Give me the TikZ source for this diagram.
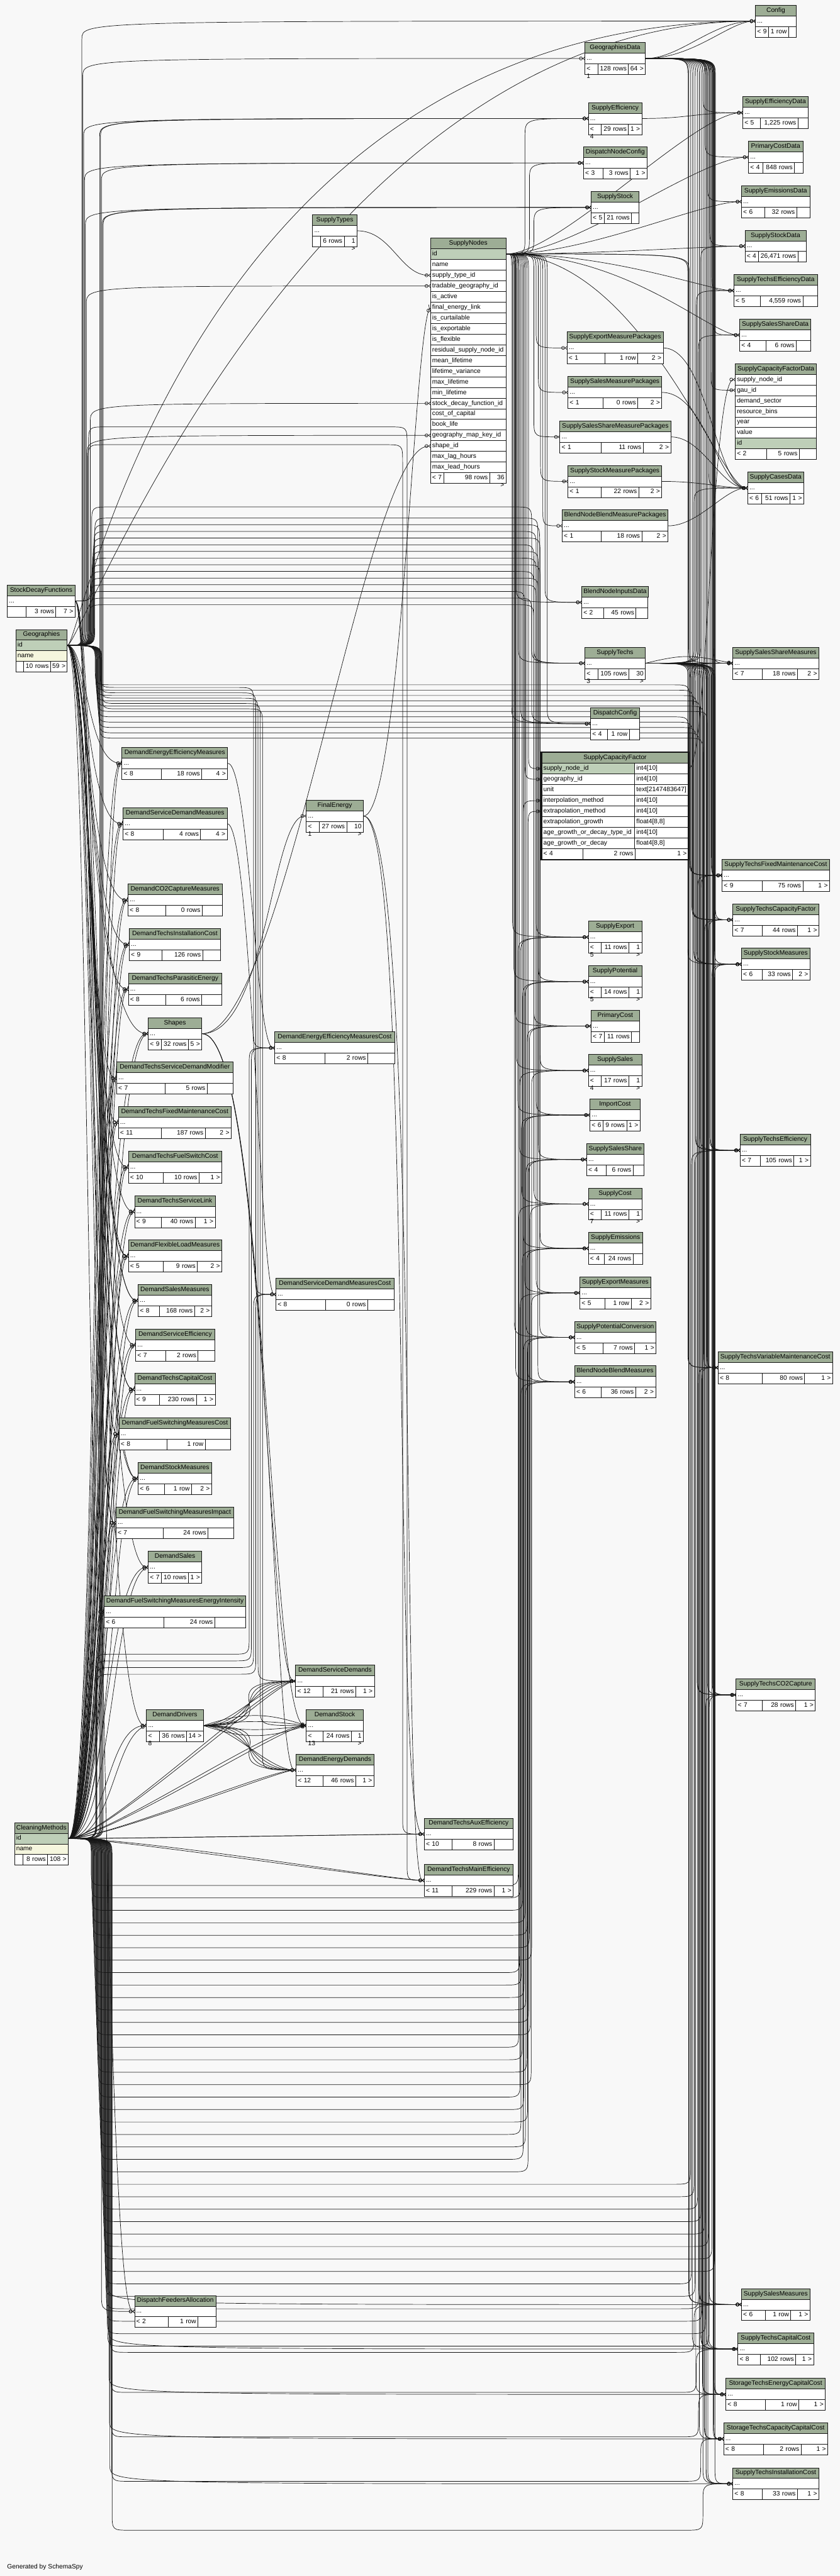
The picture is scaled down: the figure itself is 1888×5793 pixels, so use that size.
\documentclass[tikz,border=0pt]{standalone}
\usepackage{fontspec}
\setmainfont{Liberation Sans}
\usetikzlibrary{arrows.meta,calc}
\definecolor{bgc}{HTML}{F8F8F8}
\definecolor{hdrc}{HTML}{9DAD95}
\definecolor{pkc}{HTML}{BECFB8}
\definecolor{idxc}{HTML}{F5F6DE}
\definecolor{lnc}{HTML}{161616}
\pgfdeclarelayer{back}
\pgfdeclarelayer{edges}
\pgfsetlayers{back,edges,main}
\newcommand\tabfont{\fontsize{14.5}{17}\selectfont}
\tikzset{
  cellb/.style={draw=lnc,line width=1pt,minimum height=24pt,inner xsep=4pt,inner ysep=0pt,
    text height=10.4pt,text depth=3pt,anchor=north west,font=\tabfont,fill=white},
  hcell/.style={cellb,fill=hdrc,align=center},
  rcell/.style={cellb,align=left},
  fk/.style={draw=lnc,line width=1pt,shorten >=-4pt,
    -{Circle[open,length=8pt,width=8pt,line width=1pt] Straight Barb[reversed,length=7pt,width=12pt,line width=1pt]}}
}
\newcommand\zhd[5]{\pgfmathsetmacro\zW{#4-#2}\node[hcell,minimum width=\zW pt] (#1h) at (#2,#3) {#5};}
\newcommand\zrw[6]{\pgfmathsetmacro\zW{#4-#2-8}\node[rcell,text width=\zW pt,#6] (#1) at (#2,#3) {#5};}
\newcommand\zft[9]{%
  \pgfmathsetmacro\zWa{#4-#2-8}\pgfmathsetmacro\zWb{#5-#4-8}\pgfmathsetmacro\zWc{#6-#5-8}%
  \node[rcell,text width=\zWa pt,align=left] (#1fa) at (#2,#3) {#7};%
  \node[rcell,text width=\zWb pt,align=right] (#1fb) at (#4,#3) {#8};%
  \node[rcell,text width=\zWc pt,align=right] (#1fc) at (#5,#3) {#9};}
\def\zsplit#1/#2/#3\zend{\def\zFa{#1}\def\zFb{#2}\def\zFc{#3}}
\newcommand\ztb[8]{%
  \zhd{#1}{#2}{#3}{#6}{#7}%
  \pgfmathsetmacro\zYa{#3+24}\pgfmathsetmacro\zYb{#3+48}%
  \zrw{#1}{#2}{\zYa}{#6}{...}{}%
  \zsplit#8\zend
  \zft{#1}{#2}{\zYb}{#4}{#5}{#6}{\zFa}{\zFb}{\zFc}}
\newcommand\eC[4]{\draw[fk] (#1) .. controls (#2,0 |- #1) and (#3,0 |- #4) .. (#4);}
\newcommand\eV[4]{\draw[fk] (#1) .. controls (#2,0 |- #1) and (#2,0 |- #1) .. ($(#2,0 |- #1)+(0,#4)$) -- ($(#2,0 |- #3)-(0,#4)$) .. controls (#2,0 |- #3) and (#2,0 |- #3) .. (#3);}
\newcommand\eZ[7]{\draw[fk] (#1) .. controls (#2,0 |- #1) and (#2,0 |- #1) .. ($(#2,0 |- #1)+(0,#6)$) -- (#2,{#3-(#6)}) .. controls (#2,#3) and (#2,#3) .. ({#2+40},#3) -- ({#4-40},#3) .. controls (#4,#3) and (#4,#3) .. (#4,{#3+(#7)}) -- ($(#4,0 |- #5)-(0,#7)$) .. controls (#4,0 |- #5) and (#4,0 |- #5) .. (#5);}

\begin{document}
\begin{tikzpicture}[x=1pt,y=-1pt]
\useasboundingbox (0,0) rectangle (1888,5793);
\begin{pgfonlayer}{back}
\fill[bgc] (0,0) rectangle (1888,5793);
\end{pgfonlayer}

% ---------------- tables ----------------
\ztb{config}{1697.5}{11}{1727}{1772}{1789}{Config}{< 9/1 row/}
\ztb{geodata}{1314}{95}{1343}{1412}{1450}{GeographiesData}{< 1/128 rows/64 >}
\ztb{supeff}{1322}{230}{1351}{1412}{1442}{SupplyEfficiency}{< 4/29 rows/1 >}
\ztb{dnc}{1311}{330}{1355}{1416}{1454}{DispatchNodeConfig}{< 3/3 rows/1 >}
\ztb{supstock}{1328}{430}{1358}{1419}{1436}{SupplyStock}{< 5/21 rows/}
\ztb{supeffdata}{1669}{217}{1708}{1793}{1816}{SupplyEfficiencyData}{< 5/1,225 rows/}
\ztb{pcdata}{1682}{317}{1714}{1785}{1804}{PrimaryCostData}{< 4/848 rows/}
\ztb{semdata}{1666}{417}{1719}{1790}{1820}{SupplyEmissionsData}{< 6/32 rows/}
\ztb{ssdata}{1674}{517}{1704}{1793}{1811}{SupplyStockData}{< 4/26,471 rows/}
\ztb{stedata}{1649}{617}{1708}{1804}{1837}{SupplyTechsEfficiencyData}{< 5/4,559 rows/}
\ztb{sssdata}{1662}{717}{1721}{1789}{1822}{SupplySalesShareData}{< 4/6 rows/}
\zhd{scfd}{1652}{817}{1835}{SupplyCapacityFactorData}
\zrw{scfd1}{1652}{841}{1835}{supply\_node\_id}{}
\zrw{scfd2}{1652}{865}{1835}{gau\_id}{}
\zrw{scfd3}{1652}{889}{1835}{demand\_sector}{}
\zrw{scfd4}{1652}{913}{1835}{resource\_bins}{}
\zrw{scfd5}{1652}{937}{1835}{year}{}
\zrw{scfd6}{1652}{961}{1835}{value}{}
\zrw{scfd7}{1652}{985}{1835}{id}{fill=pkc}
\zft{scfd}{1652}{1009}{1722}{1796}{1835}{< 2}{5 rows}{}
\ztb{scases}{1680}{1061}{1711}{1775}{1806}{SupplyCasesData}{< 6/51 rows/1 >}
\ztb{semp}{1274}{746}{1359}{1433}{1490}{SupplyExportMeasurePackages}{< 1/1 row/2 >}
\ztb{ssmp}{1276}{846}{1355}{1433}{1487}{SupplySalesMeasurePackages}{< 1/0 rows/2 >}
\ztb{sssmp}{1258}{946}{1351}{1445}{1507}{SupplySalesShareMeasurePackages}{< 1/11 rows/2 >}
\ztb{sstmp}{1276}{1046}{1351}{1435}{1487}{SupplyStockMeasurePackages}{< 1/22 rows/2 >}
\ztb{bnbmp}{1263}{1146}{1351}{1442}{1501}{BlendNodeBlendMeasurePackages}{< 1/18 rows/2 >}
\ztb{bnid}{1307}{1318}{1357}{1429}{1456}{BlendNodeInputsData}{< 2/45 rows/}
\ztb{stechs}{1314}{1455}{1343}{1413}{1450}{SupplyTechs}{< 3/105 rows/30 >}
\ztb{dcfg}{1327}{1591}{1365}{1414}{1437}{DispatchConfig}{< 4/1 row/}
\ztb{sssm}{1646.5}{1455}{1712}{1792}{1840}{SupplySalesShareMeasures}{< 7/18 rows/2 >}
\ztb{stfmc}{1622.5}{1932}{1712}{1804}{1864}{SupplyTechsFixedMaintenanceCost}{< 9/75 rows/1 >}
\ztb{stcf}{1646.5}{2032}{1712}{1792}{1840}{SupplyTechsCapacityFactor}{< 7/44 rows/1 >}
\ztb{sstm}{1666}{2132}{1712}{1781}{1820}{SupplyStockMeasures}{< 6/33 rows/2 >}
\ztb{ste}{1663}{2550.5}{1708}{1784}{1821}{SupplyTechsEfficiency}{< 7/105 rows/1 >}
\ztb{stvmc}{1613.5}{3039}{1712}{1808}{1871}{SupplyTechsVariableMaintenanceCost}{< 8/80 rows/1 >}
\ztb{sexp}{1322}{2071}{1351}{1413}{1442}{SupplyExport}{< 5/11 rows/1 >}
\ztb{spot}{1322}{2171}{1351}{1413}{1442}{SupplyPotential}{< 5/14 rows/1 >}
\ztb{pcost}{1328}{2271}{1357.5}{1419}{1437}{PrimaryCost}{< 7/11 rows/}
\ztb{ssales}{1322}{2371}{1351}{1413}{1442}{SupplySales}{< 4/17 rows/1 >}
\ztb{icost}{1325.5}{2471}{1355}{1408}{1438}{ImportCost}{< 6/9 rows/1 >}
\ztb{sss}{1318}{2571}{1362}{1422.5}{1447}{SupplySalesShare}{< 4/6 rows/}
\ztb{scost}{1322}{2671}{1351}{1413}{1442}{SupplyCost}{< 7/11 rows/1 >}
\ztb{sem}{1322}{2771}{1357.5}{1422.5}{1444}{SupplyEmissions}{< 4/24 rows/}
\ztb{sexm}{1303}{2871}{1359}{1418}{1462}{SupplyExportMeasures}{< 5/1 row/2 >}
\ztb{spc}{1291}{2971}{1355}{1426}{1474}{SupplyPotentialConversion}{< 5/7 rows/1 >}
\ztb{bnbm}{1291}{3071}{1351}{1428}{1473}{BlendNodeBlendMeasures}{< 6/36 rows/2 >}
\ztb{stco2}{1654}{3775}{1712}{1788}{1832}{SupplyTechsCO2Capture}{< 7/28 rows/1 >}
\ztb{ssm}{1666}{5146}{1720}{1777}{1820}{SupplySalesMeasures}{< 6/1 row/1 >}
\ztb{stcc}{1658}{5246}{1708}{1788}{1828}{SupplyTechsCapitalCost}{< 8/102 rows/1 >}
\ztb{stecc}{1631}{5348}{1720}{1795}{1854.5}{StorageTechsEnergyCapitalCost}{< 8/1 row/1 >}
\ztb{stccc}{1626}{5448}{1716}{1800}{1860}{StorageTechsCapacityCapitalCost}{< 8/2 rows/1 >}
\ztb{stic}{1646.5}{5549}{1712}{1792}{1840}{SupplyTechsInstallationCost}{< 8/33 rows/1 >}
\ztb{stypes}{702}{482.5}{720}{773}{802}{SupplyTypes}{/6 rows/1 >}
\ztb{sdf}{16}{1315}{58.5}{125}{168}{StockDecayFunctions}{/3 rows/7 >}
\ztb{deem}{273.6}{1680}{362}{453}{511}{DemandEnergyEfficiencyMeasures}{< 8/18 rows/4 >}
\ztb{dsdm}{276}{1816}{365.6}{450.4}{510}{DemandServiceDemandMeasures}{< 8/4 rows/4 >}
\ztb{fe}{688}{1798.5}{717}{778.6}{816}{FinalEnergy}{< 1/27 rows/10 >}
\ztb{dco2}{287}{1987.6}{372}{454}{499}{DemandCO2CaptureMeasures}{< 8/0 rows/}
\ztb{dtic}{290}{2087.4}{363}{455}{495}{DemandTechsInstallationCost}{< 9/126 rows/}
\ztb{dtpe}{288}{2188}{372}{453}{498}{DemandTechsParasiticEnergy}{< 8/6 rows/}
\ztb{shapes}{332.6}{2288}{362}{423}{453}{Shapes}{< 9/32 rows/5 >}
\ztb{dtsdm}{261.6}{2388}{371}{465}{523}{DemandTechsServiceDemandModifier}{< 7/5 rows/}
\ztb{dtfmc}{265.6}{2487.3}{361.6}{460.7}{519}{DemandTechsFixedMaintenanceCost}{< 11/187 rows/2 >}
\ztb{deemc}{617}{2320}{730}{826}{886.6}{DemandEnergyEfficiencyMeasuresCost}{< 8/2 rows/}
\ztb{dtfsc}{288}{2588}{365.6}{447}{498}{DemandTechsFuelSwitchCost}{< 10/10 rows/1 >}
\ztb{dtsl}{302}{2688}{361.6}{438}{483}{DemandTechsServiceLink}{< 9/40 rows/1 >}
\ztb{dflm}{288}{2788}{365.6}{443}{498}{DemandFlexibleLoadMeasures}{< 5/9 rows/2 >}
\ztb{dsm}{310}{2888}{357.6}{436.6}{475}{DemandSalesMeasures}{< 8/168 rows/2 >}
\ztb{dse}{304.5}{2988}{372}{444.6}{482}{DemandServiceEfficiency}{< 7/2 rows/}
\ztb{dtcc}{302}{3088}{357.6}{440.6}{483}{DemandTechsCapitalCost}{< 9/230 rows/1 >}
\ztb{dfsmc}{267}{3188}{375}{460.7}{518}{DemandFuelSwitchingMeasuresCost}{< 8/1 row/}
\ztb{dstm}{310}{3288}{369.6}{430}{475}{DemandStockMeasures}{< 6/1 row/2 >}
\ztb{dsdmc}{619.6}{2874.3}{731}{826}{885}{DemandServiceDemandMeasuresCost}{< 8/0 rows/}
\ztb{dfsmi}{260}{3388}{367}{467}{524.6}{DemandFuelSwitchingMeasuresImpact}{< 7/24 rows/}
\ztb{dsales}{332.6}{3488}{362}{423}{453}{DemandSales}{< 7/10 rows/1 >}
\ztb{dfsmei}{233.5}{3588}{368}{482}{552}{DemandFuelSwitchingMeasuresEnergyIntensity}{< 6/24 rows/}
\ztb{ddrv}{328.6}{3844}{357.6}{419}{456.7}{DemandDrivers}{< 8/36 rows/14 >}
\ztb{dsds}{664}{3744}{725}{799}{841}{DemandServiceDemands}{< 12/21 rows/1 >}
\ztb{dstock}{688}{3844}{725}{789}{816}{DemandStock}{< 13/24 rows/1 >}
\ztb{deds}{665}{3944}{725}{799}{840}{DemandEnergyDemands}{< 12/46 rows/1 >}
\ztb{dtae}{953}{4088}{1015}{1110}{1153}{DemandTechsAuxEfficiency}{< 10/8 rows/}
\ztb{dtme}{953}{4192}{1015}{1110}{1153}{DemandTechsMainEfficiency}{< 11/229 rows/1 >}
\ztb{dfa}{302}{5161.5}{377}{444.5}{485}{DispatchFeedersAllocation}{< 2/1 row/}

% SupplyNodes
\zhd{sn}{967}{534.6}{1137}{SupplyNodes}
\foreach \vt/\vs [count=\vi] in {id/pkc,name/white,supply\_type\_id/white,tradable\_geography\_id/white,is\_active/white,final\_energy\_link/white,is\_curtailable/white,is\_exportable/white,is\_flexible/white,residual\_supply\_node\_id/white,mean\_lifetime/white,lifetime\_variance/white,max\_lifetime/white,min\_lifetime/white,stock\_decay\_function\_id/white,cost\_of\_capital/white,book\_life/white,geography\_map\_key\_id/white,shape\_id/white,max\_lag\_hours/white,max\_lead\_hours/white}
  {\pgfmathsetmacro\zY{534.6+24*\vi}\zrw{sn\vi}{967}{\zY}{1137}{\vt}{fill=\vs}}
\zft{sn}{967}{1062.6}{997}{1100}{1137}{< 7}{98 rows}{36 >}

% SupplyCapacityFactor (focus table)
\zhd{scf}{1217}{1692}{1547}{SupplyCapacityFactor}
\zrw{scf1}{1217}{1716}{1426}{supply\_node\_id}{fill=pkc}\zrw{scft1}{1426}{1716}{1547}{int4[10]}{}
\zrw{scf2}{1217}{1740}{1426}{geography\_id}{}\zrw{scft2}{1426}{1740}{1547}{int4[10]}{}
\zrw{scf3}{1217}{1764}{1426}{unit}{}\zrw{scft3}{1426}{1764}{1547}{text[2147483647]}{}
\zrw{scf4}{1217}{1788}{1426}{interpolation\_method}{}\zrw{scft4}{1426}{1788}{1547}{int4[10]}{}
\zrw{scf5}{1217}{1812}{1426}{extrapolation\_method}{}\zrw{scft5}{1426}{1812}{1547}{int4[10]}{}
\zrw{scf6}{1217}{1836}{1426}{extrapolation\_growth}{}\zrw{scft6}{1426}{1836}{1547}{float4[8,8]}{}
\zrw{scf7}{1217}{1860}{1426}{age\_growth\_or\_decay\_type\_id}{}\zrw{scft7}{1426}{1860}{1547}{int4[10]}{}
\zrw{scf8}{1217}{1884}{1426}{age\_growth\_or\_decay}{}\zrw{scft8}{1426}{1884}{1547}{float4[8,8]}{}
\zft{scf}{1217}{1908}{1310}{1427}{1547}{< 4}{2 rows}{1 >}
\draw[lnc,line width=3pt] (scfh.north west) rectangle (scffc.south east);

% Geographies / CleaningMethods
\zhd{geo}{35}{1415}{150.6}{Geographies}
\zrw{geoid}{35}{1439}{150.6}{id}{fill=pkc}
\zrw{geoname}{35}{1463}{150.6}{name}{fill=idxc}
\zft{geo}{35}{1487}{52}{113}{150.6}{}{10 rows}{59 >}
\zhd{cm}{32}{4098}{153}{CleaningMethods}
\zrw{cmid}{32}{4122}{153}{id}{fill=pkc}
\zrw{cmname}{32}{4146}{153}{name}{fill=idxc}
\zft{cm}{32}{4170}{51}{106.5}{153}{}{8 rows}{108 >}

\node[anchor=west,font=\tabfont,inner sep=0pt] (gen) at (16,5773) {Generated by SchemaSpy};

% ---------------- connectors ----------------
\begin{pgfonlayer}{edges}
% Geographies -> left demand tables
\foreach \vc/\va in {deem/195,dsdm/197,dco2/199,dtic/201,dtpe/203,shapes/205,dtsdm/200,dtfmc/202,dtfsc/204,dtsl/206,dflm/208,dsm/210,dse/212,dtcc/214,dfsmc/207,dstm/216,dfsmi/209,dsales/218,dfsmei/196,ddrv/220,dfa/222}
  {\eC{geoid.east}{\va}{\va}{\vc.west}}
% CleaningMethods -> left demand tables (two each)
\foreach \vc/\va in {deem/212,dsdm/214,dco2/216,dtic/218,dtpe/220,shapes/222,dtsdm/211,dtfmc/213,dtfsc/224,dtsl/226,dflm/228,dsm/230,dse/232,dtcc/234,dfsmc/215,dstm/236,dfsmi/217,dsales/238,dfsmei/200,ddrv/240}
  {\pgfmathsetmacro\zb{\va+14}\eC{cmid.east}{\va}{\va}{\vc.west}
   \draw[fk] (cmid.east) .. controls (\zb,0 |- cmid.east) and ($(\zb,0 |- \vc.west)+(0,30)$) .. (\vc.west);}
\eV{cmid.east}{228}{dfa.west}{40}
% Geographies -> top tables
\foreach \vc/\va in {geodata/186,supeff/188,dnc/190,supstock/192,sn4/194,sn18/196,config/184}
  {\eV{geoid.east}{\va}{\vc.west}{-40}}
\eC{geoid.east}{183}{420}{config.west}
\eC{geoid.east}{182}{700}{config.west}
% CleaningMethods -> top tables
\foreach \vc/\va in {supeff/224,supeff/226,dnc/228,supstock/230,supstock/232}
  {\eV{cmid.east}{\va}{\vc.west}{-40}}
% Geographies -> middle supply tables
\foreach \vc/\va/\vm/\vb in {stechs/200/1360/1200,dcfg/201/1345/1195,scf2/202/1330/1180,sexp/203/1315/1205,spot/204/1300/1210,pcost/205/1285/1200,ssales/206/1270/1214,icost/207/1255/1205,sss/208/1240/1210,scost/209/1225/1200,sem/210/1210/1214,sexm/211/1195/1205,spc/212/1180/1213,bnbm/213/1165/1209}
  {\eZ{geoid.east}{\va}{\vm}{\vb}{\vc.west}{-40}{40}}
% Geographies -> right tables
\foreach \vc/\va/\vm/\vb in {stfmc/214/1540/1550,stcf/215/1552/1558,sstm/216/1564/1566,ste/217/1576/1574,stvmc/218/1588/1582,stco2/219/1600/1590,ssm/220/1612/1548,stcc/221/1624/1556,stecc/222/1636/1564,stccc/223/1648/1572,stic/224/1660/1580}
  {\eZ{geoid.east}{\va}{\vm}{\vb}{\vc.west}{40}{40}}
% Geographies -> demand cost / demand result tables
\foreach \vc/\va/\vm/\vb in {deemc/225/1546/570,dsdmc/226/1558/575,dsds/227/1570/580,dstock/228/1582/585,deds/229/1594/590}
  {\eZ{geoid.east}{\va}{\vm}{\vb}{\vc.west}{40}{40}}
\foreach \vc/\va/\vm/\vb in {dtae/198/1000/905,dtme/199/960/915}
  {\eZ{geoid.east}{\va}{\vm}{\vb}{\vc.west}{-40}{40}}
% CleaningMethods -> middle supply tables
\foreach \vc/\va/\vm/\vb in {sexp/205/4240/1165,sexp/206/4268/1170,spot/207/4296/1175,spot/208/4324/1180,pcost/209/4352/1185,pcost/210/4380/1190,ssales/211/4408/1195,ssales/212/4436/1168,icost/213/4464/1172,icost/214/4492/1178,sss/215/4520/1182,sss/216/4548/1188,scost/217/4576/1192,scost/218/4604/1166,sem/219/4632/1174,sem/220/4660/1184,sexm/221/4688/1194,sexm/222/4716/1169,spc/223/4744/1177,spc/224/4772/1186,bnbm/225/4800/1171,bnbm/226/4828/1181,scf4/227/4856/1176,scf5/228/4884/1187}
  {\eZ{cmid.east}{\va}{\vm}{\vb}{\vc.west}{40}{-40}}
% CleaningMethods -> right tables
\foreach \vc/\va/\vm/\vb in {sssm/229/4912/1552,sssm/230/4940/1560,stfmc/231/4968/1568,stfmc/232/4996/1576,stcf/233/5024/1584,stcf/234/5052/1592,sstm/235/5080/1600,sstm/236/5108/1606,ste/237/5136/1554,ste/238/5164/1562,stvmc/239/5192/1570,stvmc/240/5220/1578,stco2/241/5248/1586,stco2/242/5276/1594}
  {\eZ{cmid.east}{\va}{\vm}{\vb}{\vc.west}{40}{-40}}
\foreach \vc/\va in {ssm/243,stcc/244,stecc/245,stccc/246,stic/247}
  {\eV{cmid.east}{\va}{\vc.west}{40}}
\foreach \vc/\va/\vm/\vb in {ssm/248/5290/1560,stcc/249/5380/1565,stecc/250/5480/1570,stccc/251/5580/1575,stic/252/5690/1580}
  {\eZ{cmid.east}{\va}{\vm}{\vb}{\vc.west}{40}{-40}}
% CleaningMethods -> demand cost / result tables
\foreach \vc/\va/\vm/\vb in {deemc/215/3720/560,deemc/216/3735/565,dsdmc/217/3750/570,dsdmc/218/3765/575}
  {\eZ{cmid.east}{\va}{\vm}{\vb}{\vc.west}{-40}{-40}}
\foreach \vc/\va/\vb in {dsds/235/600,dsds/238/620,dstock/236/610,dstock/239/640,deds/237/605,deds/240/630}
  {\eC{cmid.east}{\va}{\vb}{\vc.west}}
\eC{cmid.east}{260}{880}{dtae.west}
\eC{cmid.east}{300}{900}{dtae.west}
\eC{cmid.east}{260}{870}{dtme.west}
\eC{cmid.east}{320}{890}{dtme.west}
% SupplyNodes -> children
\foreach \vc/\vb in {supeff/1180,dnc/1190,supstock/1200}
  {\eV{sn1.east}{\vb}{\vc.west}{-40}}
\foreach \vc/\vb in {semp/1205,ssmp/1210,sssmp/1200,sstmp/1215,bnbmp/1220,bnid/1225,bnid/1160,stechs/1165,dcfg/1170,dcfg/1150,dcfg/1230,scf1/1188,sexp/1152,spot/1155,pcost/1158,ssales/1161,icost/1164,sss/1167,scost/1173,sem/1176,sexm/1179,spc/1182,spc/1156,bnbm/1185,bnbm/1159}
  {\eV{sn1.east}{\vb}{\vc.west}{40}}
\eV{sn1.east}{1546}{sstm.west}{40}
\eV{sn1.east}{1549}{ssm.west}{40}
\foreach \vc/\va/\vb in {supeffdata/1260/1560,pcdata/1290/1570,semdata/1320/1580,ssdata/1350/1590,stedata/1380/1595,sssdata/1410/1600,scases/1440/1620}
  {\eC{sn1.east}{\va}{\vb}{\vc.west}}
% GeographiesData -> children
\eC{geodata.east}{1530}{1600}{config.west}
\eC{geodata.east}{1560}{1640}{config.west}
\foreach \vc/\vb in {supeffdata/1580,pcdata/1585,semdata/1590,ssdata/1595,stedata/1600,sssdata/1603,scfd2/1598,scases/1593}
  {\eV{geodata.east}{\vb}{\vc.west}{40}}
\foreach \vc/\vb in {sssm/1548,sssm/1604,stfmc/1552,stfmc/1600,stcf/1556,stcf/1608,sstm/1560,sstm/1606,ste/1564,ste/1597,stvmc/1546,stvmc/1590,stco2/1568,stco2/1602,ssm/1572,ssm/1594,stcc/1576,stcc/1588,stecc/1580,stecc/1605,stccc/1584,stccc/1603,stic/1587,stic/1607}
  {\eV{geodata.east}{\vb}{\vc.west}{40}}
% SupplyTechs -> children
\draw[fk] (stechs.east) .. controls +(100,0) and +(-100,0) .. (sssm.west);
\draw[fk] (stechs.east) .. controls +(90,-22) and +(-90,-18) .. (sssm.west);
\foreach \vc/\vb in {scases/1560,stedata/1565,sssdata/1570,ssdata/1575}
  {\eV{stechs.east}{\vb}{\vc.west}{-40}}
\foreach \vc/\vb in {stfmc/1551,stfmc/1599,stcf/1555,stcf/1603,sstm/1559,ste/1563,ste/1595,stvmc/1589,stvmc/1547,stco2/1567,stco2/1601,ssm/1571,stcc/1575,stcc/1593,stecc/1579,stecc/1607,stccc/1583,stccc/1605,stic/1587,stic/1591}
  {\eV{stechs.east}{\vb}{\vc.west}{40}}
% DemandDrivers -> demand result tables
\foreach \vd in {60,100,140,180,220}
  {\draw[fk] (ddrv.east) .. controls +(\vd,0) and +(-\vd,0) .. (dsds.west);
   \draw[fk] (ddrv.east) .. controls +(\vd,0) and +(-\vd,0) .. (deds.west);}
\foreach \vk in {-30,-12,12,30}
  {\draw[fk] (ddrv.east) .. controls +(90,\vk) and +(-90,\vk) .. (dstock.west);}
% FinalEnergy
\draw[fk] (fe.east) .. controls (900,1834.5) and (930,760) .. (sn6.west);
\eC{fe.east}{930}{880}{dtae.west}
\eC{fe.east}{945}{900}{dtme.west}
% Shapes
\eC{shapes.east}{600}{610}{fe.west}
\eC{shapes.east}{640}{820}{sn19.west}
\eC{shapes.east}{595}{600}{dsds.west}
\eC{shapes.east}{600}{605}{dstock.west}
\eC{shapes.east}{605}{610}{deds.west}
% StockDecayFunctions
\eV{sdf.east}{203}{sn15.west}{-40}
\eZ{sdf.east}{206}{1140}{1195}{stechs.west}{-40}{40}
\foreach \vc/\va in {dstm/204,dsm/206,dfsmi/208,dtcc/210,dflm/212}
  {\eC{sdf.east}{\va}{\va}{\vc.west}}
% single links
\eC{stypes.east}{880}{900}{sn3.west}
\eC{supeff.east}{1550}{1560}{supeffdata.west}
\foreach \vc/\va/\vb in {semp/1590/1610,ssmp/1585/1615,sssmp/1580/1620,sstmp/1575/1625,bnbmp/1570/1630}
  {\eC{\vc.east}{\va}{\vb}{scases.west}}
\eC{deem.east}{560}{575}{deemc.west}
\eC{dsdm.east}{565}{585}{dsdmc.west}
\eC{scft1.east}{1590}{1600}{scfd1.west}
\end{pgfonlayer}
\end{tikzpicture}
\end{document}
